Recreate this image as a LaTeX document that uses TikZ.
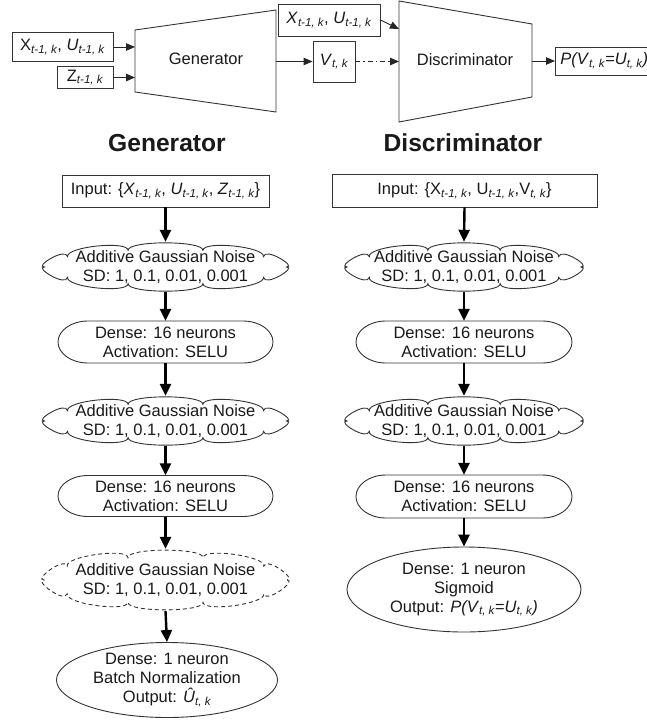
\documentclass[tikz,border=0pt]{standalone}
\usepackage{fontspec}
\setmainfont{Liberation Sans}
\usetikzlibrary{shapes.geometric,arrows.meta}
\newcommand\sbs[1]{\textsubscript{\itshape #1}}
\newcommand\noisetext{Additive Gaussian Noise\\SD: 1, 0.1, 0.01, 0.001}
\newcommand\densetext{Dense: 16 neurons\\Activation: SELU}
\newcommand\pd{10}
% #1 name, #2 x, #3 y, #4 width, #5 height, #6 extra line options
\newcommand\noisenode[6]{%
  \node[plainbox, minimum width=#4pt, minimum height=#5pt] (#1) at (#2,#3) {\noisetext};
  \pgfmathsetmacro\ca{#4/2-0.75*\pd}%
  \pgfmathsetmacro\cb{#5/2-0.75*\pd}%
  \draw[shapeline,#6] ({#2+\ca},#3)
    \foreach \i [evaluate=\i as \ta using 36*(\i-1), evaluate=\i as \tb using 36*\i] in {1,...,10} {
      .. controls ({#2+\ca*cos(\ta)+\pd*nx(\ta,\ca,\cb)},{#3+\cb*sin(\ta)+\pd*ny(\ta,\ca,\cb)})
              and ({#2+\ca*cos(\tb)+\pd*nx(\tb,\ca,\cb)},{#3+\cb*sin(\tb)+\pd*ny(\tb,\ca,\cb)})
      .. ({#2+\ca*cos(\tb)},{#3+\cb*sin(\tb)})
    } -- cycle;
}
% #1 name, #2 x, #3 y, #4 width, #5 height : capsule with elliptical ends
\newcommand\densenode[5]{%
  \node[plainbox, minimum width=#4pt, minimum height=#5pt] (#1) at (#2,#3) {\densetext};
  \draw[shapeline] ({#2-#4/2+30},{#3-#5/2}) -- ({#2+#4/2-30},{#3-#5/2})
     arc[start angle=-90, end angle=90, x radius=30, y radius=#5/2]
     -- ({#2-#4/2+30},{#3+#5/2})
     arc[start angle=90, end angle=270, x radius=30, y radius=#5/2] -- cycle;
}
\begin{document}
\begin{tikzpicture}[x=1pt,y=-1pt,
  declare function={nrm(\t,\a,\b)=sqrt((cos(\t)/\a)^2+(sin(\t)/\b)^2);
                    nx(\t,\a,\b)=cos(\t)/\a/nrm(\t,\a,\b);
                    ny(\t,\a,\b)=sin(\t)/\b/nrm(\t,\a,\b);},
  every node/.style={font=\fontsize{16.5}{19}\selectfont, text=black!90},
  box/.style={draw=black!80, line width=0.9pt, inner sep=0pt},
  trap/.style={draw=black!80, line width=0.9pt, line join=miter},
  plainbox/.style={draw=none, rectangle, inner sep=0pt, align=center},
  shapeline/.style={draw=black!80, line width=0.9pt},
  outnode/.style={draw=black!80, line width=0.9pt, ellipse, inner sep=0pt, align=center},
  thinarrow/.style={draw=black!85, line width=0.9pt, -{Triangle[length=9pt,width=7.5pt]}},
  thickarrow/.style={draw=black, line width=2.4pt, -{Triangle[length=12pt,width=11pt]}},
  heading/.style={font=\bfseries\fontsize{24.6}{28}\selectfont}
]
\useasboundingbox (0,0) rectangle (646,720);

% ---------- top: GAN overview ----------
\node[box, minimum width=101pt, minimum height=29pt] (xu) at (62.5,47) {X\sbs{t-1, k}, \textit{U}\sbs{t-1, k}};
\node[box, minimum width=56pt, minimum height=22pt] (z) at (85,77.5) {Z\sbs{t-1, k}};

\draw[trap] (135,30) coordinate (g1) -- (276,10) coordinate (g2) -- (276,112) coordinate (g3) -- (135,92) coordinate (g4) -- cycle;
\node (gen) at (206,59) {Generator};
\coordinate (gi1) at (135,47);
\coordinate (gi2) at (135,77.5);
\coordinate (go) at (276,61.5);

\draw[trap] (399,1) coordinate (d1) -- (532,24) coordinate (d2) -- (532,97) coordinate (d3) -- (399,122) coordinate (d4) -- cycle;
\node (disc) at (465,60) {Discriminator};
\coordinate (di1) at (399,29);
\coordinate (di2) at (399,61.5);
\coordinate (do) at (532,61);

\node[box, minimum width=102pt, minimum height=32pt] (xu2) at (329,20) {\textit{X}\sbs{t-1, k}, \textit{U}\sbs{t-1, k}};
\node[box, minimum width=42pt, minimum height=41pt] (v) at (334,61.5) {\textit{V}\sbs{t, k}};
\node[box, minimum height=28pt, inner xsep=5pt, anchor=west] (p) at (555,61) {\textit{P(V}\sbs{t, k}\textit{=U}\sbs{t, k}\textit{)}};

\draw[thinarrow] (xu.east) -- (gi1);
\draw[thinarrow] (z.east) -- (gi2);
\draw[thinarrow] (go) -- (v.west);
\draw[thinarrow, dash pattern=on 5pt off 3pt on 1.5pt off 3pt] (v.east) -- (di2);
\draw[thinarrow] (xu2.east) -- (di1);
\draw[thinarrow] (do) -- (p.west);

% ---------- headings ----------
\node[heading] (hg) at (167,143) {Generator};
\node[heading] (hd) at (463,143) {Discriminator};

% ---------- generator column ----------
\node[box, minimum width=207pt, minimum height=32pt] (gin) at (165.5,191) {Input: \{\textit{X}\sbs{t-1, k}, \textit{U}\sbs{t-1, k}, \textit{Z}\sbs{t-1, k}\}};
\noisenode{gc1}{165.5}{267}{257}{50}{}
\densenode{gd1}{165.5}{342}{215}{42}
\noisenode{gc2}{165.5}{421}{257}{50}{}
\densenode{gd2}{165.5}{496}{215}{41}
\noisenode{gc3}{165.5}{580}{258}{62}{dash pattern=on 4pt off 3pt}
\node[outnode, inner ysep=-3pt, minimum width=221pt, minimum height=75pt] (gout) at (167,680) {Dense: 1 neuron\\Batch Normalization\\Output: \textit{Û}\sbs{t, k}};

\draw[thickarrow] (gin.south) -- (gc1.north);
\draw[thickarrow] (gc1.south) -- (gd1.north);
\draw[thickarrow] (gd1.south) -- (gc2.north);
\draw[thickarrow] (gc2.south) -- (gd2.north);
\draw[thickarrow] (gd2.south) -- (gc3.north);
\draw[thickarrow] (gc3.south) -- (gout.north);

% ---------- discriminator column ----------
\node[box, minimum width=265pt, minimum height=33pt] (din) at (464.5,190.5) {Input: \{X\sbs{t-1, k}, U\sbs{t-1, k},V\sbs{t, k}\}};
\noisenode{dc1}{464}{267}{249}{50}{}
\densenode{dd1}{464}{342}{216}{42}
\noisenode{dc2}{464}{421}{249}{50}{}
\densenode{dd2}{464}{496.5}{216}{43}
\node[outnode, minimum width=234pt, minimum height=85pt] (dout) at (464,589.5) {Dense: 1 neuron\\Sigmoid\\Output: \textit{P(V}\sbs{t, k}\textit{=U}\sbs{t, k}\textit{)}};

\draw[thickarrow] (din.south) -- (dc1.north);
\draw[thickarrow] (dc1.south) -- (dd1.north);
\draw[thickarrow] (dd1.south) -- (dc2.north);
\draw[thickarrow] (dc2.south) -- (dd2.north);
\draw[thickarrow] (dd2.south) -- (dout.north);
\end{tikzpicture}
\end{document}
